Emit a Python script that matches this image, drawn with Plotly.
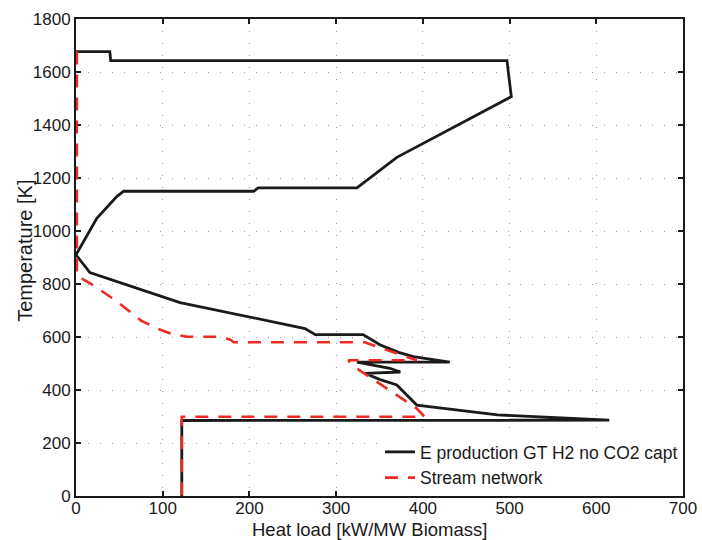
import plotly.graph_objects as go

# Composite curve: "E production GT H2 no CO2 capt"
gcc_x = [0, 39, 40, 497, 502, 370, 324, 210, 205, 55, 47, 24, 0, 16, 120, 264, 276, 331,
         351, 372, 389, 431, 324, 362, 374, 333, 350, 370, 393, 486, 615, 122, 122]
gcc_T = [1677, 1677, 1643, 1643, 1507, 1278, 1163, 1163, 1150, 1150, 1130, 1048, 910, 843,
         730, 632, 609, 609, 570, 542, 526, 505, 505, 482, 468, 463, 440, 419, 343, 306, 286, 285, 0]

# Stream network
net_x = [1, 1, 16, 45, 75, 95, 110, 128, 166, 178, 182, 333, 393, 314, 320, 393, 402, 122, 122]
net_T = [1677, 830, 803, 740, 662, 630, 612, 601, 601, 590, 580, 580, 512, 512, 490, 330, 299, 299, 0]

x_ticks = [0, 100, 200, 300, 400, 500, 600, 700]
y_ticks = [0, 200, 400, 600, 800, 1000, 1200, 1400, 1600, 1800]

FONT = "Liberation Sans, Arial, sans-serif"

fig = go.Figure()
fig.add_trace(go.Scatter(x=gcc_x, y=gcc_T, mode="lines", name="E production GT H2 no CO2 capt",
                         line=dict(color="#1a1a1a", width=2.8)))
fig.add_trace(go.Scatter(x=net_x, y=net_T, mode="lines", name="Stream network",
                         line=dict(color="#ee2a24", width=2.6, dash="13px,10px")))

axis_common = dict(
    showline=True, linecolor="#1a1a1a", linewidth=2, mirror="ticks",
    ticks="inside", ticklen=5, tickwidth=1.5, tickcolor="#1a1a1a",
    showgrid=True, gridcolor="#9a9a9a", gridwidth=1, griddash="1px,11px",
    zeroline=False, tickfont=dict(family=FONT, size=17, color="#1a1a1a"),
    layer="below traces", automargin=False,
)

fig.update_layout(
    width=702, height=540,
    margin=dict(l=76, r=19, t=19, b=44),
    plot_bgcolor="white", paper_bgcolor="white",
    font=dict(family=FONT, color="#1a1a1a"),
    xaxis=dict(range=[0, 700], tickvals=x_ticks, ticklabelstandoff=-4, **axis_common),
    yaxis=dict(range=[0, 1800], tickvals=y_ticks, **axis_common),
    legend=dict(x=1, y=0, xanchor="right", yanchor="bottom", bgcolor="white",
                borderwidth=0, font=dict(family=FONT, size=17.5, color="#1a1a1a"),
                tracegroupgap=0, itemwidth=30),
    showlegend=True,
    annotations=[
        dict(text="Heat load [kW/MW Biomass]", xref="paper", yref="paper",
             x=0.484, y=-0.071, xanchor="center", yanchor="middle", showarrow=False,
             font=dict(family=FONT, size=18.5, color="#1a1a1a")),
        dict(text="Temperature [K]", xref="paper", yref="paper", textangle=-90,
             x=-0.084, y=0.514, xanchor="center", yanchor="middle", showarrow=False,
             font=dict(family=FONT, size=20, color="#1a1a1a")),
    ],
)

fig.write_html("out.html")
